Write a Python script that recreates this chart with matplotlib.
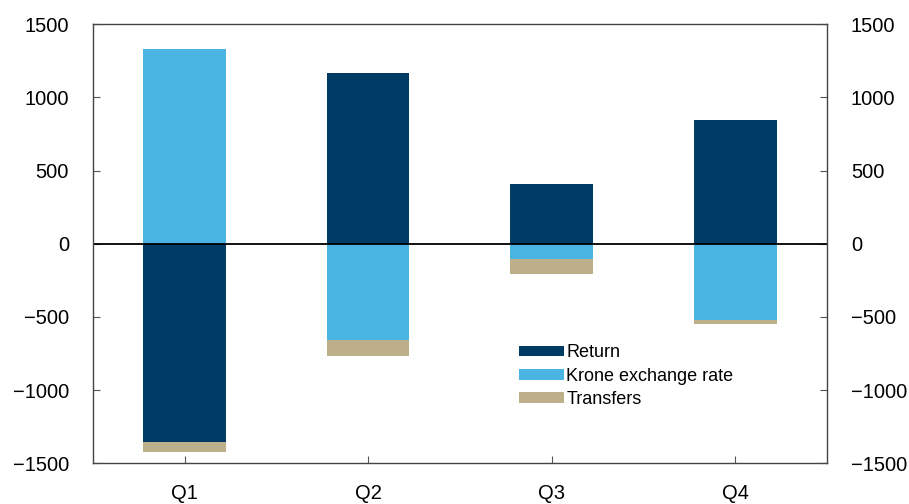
import numpy as np
import matplotlib.pyplot as plt

plt.rcParams['font.family'] = ['Liberation Sans', 'DejaVu Sans']

quarters = ['Q1', 'Q2', 'Q3', 'Q4']
ret = [-1355, 1164, 411, 842]
krone = [1329, -658, -103, -521]
transfers = [-68, -110, -103, -27]

series = [('Return', ret, '#003b66'),
          ('Krone exchange rate', krone, '#4ab4e2'),
          ('Transfers', transfers, '#bcaf89')]

fig = plt.figure(figsize=(9.09, 5.04), dpi=100)
ax = fig.add_axes([0.102, 0.081, 0.808, 0.871])

x = np.arange(len(quarters))
pos_base = np.zeros(len(quarters))
neg_base = np.zeros(len(quarters))
for name, vals, col in series:
    vals = np.array(vals, dtype=float)
    bottom = np.where(vals >= 0, pos_base, neg_base)
    ax.bar(x, vals, width=0.45, bottom=bottom, color=col, label=name)
    pos_base += np.where(vals >= 0, vals, 0)
    neg_base += np.where(vals < 0, vals, 0)

ax.axhline(0, color='black', lw=1.3)
ax.set_xlim(-0.5, 3.5)
ax.set_ylim(-1500, 1500)
yt = list(range(-1500, 1501, 500))
ylab = [str(v).replace('-', '\u2212') for v in yt]
ax.set_yticks(yt)
ax.set_yticklabels(ylab)
ax.set_xticks(x)
ax.set_xticklabels(quarters)
ax.tick_params(axis='x', direction='in', length=5, pad=15, labelsize=14.5, color='#555555')
ax.tick_params(axis='y', direction='in', length=5, labelsize=14.5, color='#555555',
               right=True, labelright=True, pad=17)

for s in ax.spines.values():
    s.set_color('#444444')
    s.set_linewidth(1.0)

ax.legend(loc='upper left', bbox_to_anchor=(0.571, 0.287), frameon=False,
          fontsize=13, handlelength=2.5, handleheight=0.55, handletextpad=0.1,
          labelspacing=0.35, borderaxespad=0)

fig.savefig('out.png', dpi=100)
